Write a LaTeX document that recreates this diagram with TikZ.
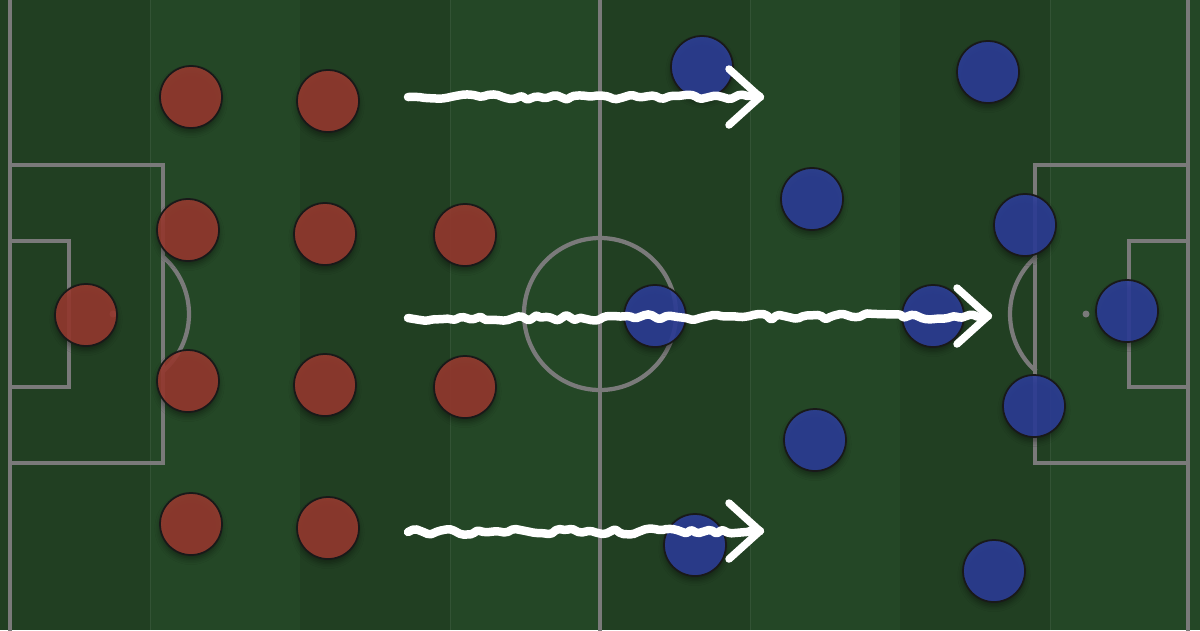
\documentclass[tikz,border=0pt]{standalone}
\usepackage{tikz}
\usepackage{xcolor}
\usetikzlibrary{decorations.pathmorphing, shadows.blur}
\definecolor{cPitchA}{RGB}{33,63,34}
\definecolor{cPitchB}{RGB}{36,71,38}
\definecolor{cLine}{RGB}{122,122,122}
\definecolor{cHome}{RGB}{155,58,48}
\definecolor{cAway}{RGB}{45,62,156}
\tikzset{
	pline/.style  ={draw=cLine, line width=0.085cm},
	player/.style ={circle, draw=black!90, line width=1pt, minimum size=1.24cm, inner sep=0pt, fill opacity=0.86,
		blur shadow={shadow xshift=0pt, shadow yshift=-2.5pt, shadow blur radius=3pt, shadow opacity=45}},
	redp/.style   ={player, fill=cHome},
	bluep/.style  ={player, fill=cAway},
	% wavy runs and their open heads
	runline/.style={draw=white, line width=0.17cm, line cap=round, line join=round, rounded corners=1.2pt,
		decorate, decoration={random steps, segment length=4.5pt, amplitude=1.9pt}},
	runhead/.style={draw=white, line width=0.15cm, line cap=round, line join=round},
}

\begin{document}
\begin{tikzpicture}[x=0.02cm, y=-0.02cm]
	\pgfmathsetseed{11}
	\useasboundingbox (0,0) rectangle (1200,630);
	% grass stripes
	\fill[cPitchA] (0,0) rectangle (1200,630);
	\foreach \x in {150,450,750,1050} {
		\fill[cPitchB] (\x,0) rectangle ++(150,630);
		\draw[white, opacity=0.07, line width=0.4pt] (\x,0) -- ++(0,630);
	}
	% markings
	\draw[pline] (10,-5) -- (10,635);
	\draw[pline] (1188,-5) -- (1188,635);
	\draw[pline] (600,-5) -- (600,635);
	\draw[pline] (600,314) circle[radius=76];
	\draw[pline] (10,165) rectangle (163,463);
	\draw[pline] (10,241) rectangle (69,387);
	\draw[pline] (113,314) ++(-48.9:76) arc[start angle=-48.9, end angle=48.9, radius=76];
	\fill[cLine] (113,314) circle[radius=3.5];
	\draw[pline] (1188,165) rectangle (1035,463);
	\draw[pline] (1188,241) rectangle (1129,387);
	\draw[pline] (1086,314) ++(131.1:76) arc[start angle=131.1, end angle=228.9, radius=76];
	\fill[cLine] (1086,314) circle[radius=3.5];
	% red side
	\foreach \x/\y [count=\i] in {86/315, 191/97, 328/101, 188/230, 325/234, 465/235, 188/381, 325/385, 465/387, 191/524, 328/528}
		\node[redp] (r\i) at (\x,\y) {};
	% blue side
	\foreach \x/\y [count=\i] in {702/67, 988/72, 812/199, 1025/225, 655/316, 933/316, 1127/311, 815/440, 1034/406, 695/545, 994/571}
		\node[bluep] (b\i) at (\x,\y) {};
	% runs
	\coordinate (s1) at (408,97);  \coordinate (t1) at (760,97);
	\coordinate (s2) at (408,318); \coordinate (t2) at (988,316);
	\coordinate (s3) at (408,532); \coordinate (t3) at (760,531);
	\foreach \k in {1,2,3} {
		\draw[runline] (s\k) -- (t\k);
		\draw[runhead] (t\k) ++(-31,-28) -- (t\k) -- ++(-31,28);
	}
\end{tikzpicture}
\end{document}
